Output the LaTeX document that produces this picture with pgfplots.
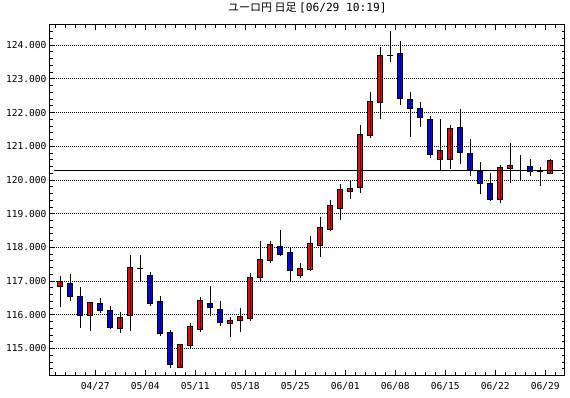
\documentclass[border=0pt]{standalone}
\usepackage{fontspec}
\setmainfont{DejaVu Sans Mono}
\newfontfamily\cjk{Noto Sans CJK JP}
\usepackage{pgfplots}
\pgfplotsset{compat=1.18}
\usepackage{pgfplotstable}
\pgfplotstableread{
x o h l c
0 116.85 117.16 116.22 117.00
1 116.94 117.22 116.42 116.55
2 116.55 116.83 115.62 115.99
3 115.99 116.39 115.53 116.36
4 116.33 116.50 116.05 116.13
5 116.12 116.27 115.59 115.62
6 115.59 116.09 115.45 115.93
7 115.99 117.78 115.53 117.39
8 117.38 117.78 116.99 117.36
9 117.18 117.28 116.25 116.32
10 116.38 116.56 115.38 115.43
11 115.46 115.55 114.41 114.53
12 114.45 115.14 114.41 115.13
13 115.09 115.75 115.00 115.66
14 115.55 116.53 115.48 116.41
15 116.32 116.86 115.95 116.22
16 116.17 116.42 115.68 115.78
17 115.74 115.93 115.33 115.84
18 115.83 116.21 115.48 115.96
19 115.89 117.25 115.83 117.12
20 117.12 118.20 116.99 117.65
21 117.62 118.20 117.55 118.07
22 118.04 118.52 117.73 117.80
23 117.84 118.00 116.99 117.31
24 117.17 117.53 117.08 117.36
25 117.33 118.34 117.29 118.10
26 118.06 118.91 117.70 118.58
27 118.52 119.41 118.49 119.24
28 119.16 119.89 118.82 119.73
29 119.66 119.99 119.43 119.75
30 119.79 121.63 119.61 121.36
31 121.33 122.62 121.24 122.34
32 122.31 123.95 121.82 123.70
33 123.70 124.42 123.51 123.68
34 123.76 124.13 122.21 122.43
35 122.40 122.61 121.28 122.13
36 122.12 122.32 121.56 121.86
37 121.78 121.91 120.64 120.74
38 120.62 121.81 120.27 120.88
39 120.62 121.63 120.31 121.53
40 121.56 122.11 120.47 120.82
41 120.79 121.22 120.13 120.28
42 120.26 120.54 119.57 119.88
43 119.88 120.20 119.37 119.43
44 119.41 120.45 119.31 120.38
45 120.35 121.11 119.91 120.44
46 120.40 120.75 119.99 120.40
47 120.41 120.62 120.13 120.24
48 120.26 120.39 119.81 120.24
49 120.20 120.62 120.20 120.59
}\candles
\begin{document}
\begin{tikzpicture}
\useasboundingbox (0,0) rectangle (570pt,398pt);
\begin{axis}[
  at={(50pt,22.5pt)}, anchor=south west,
  scale only axis, width=514.8pt, height=350.7pt,
  xmin=-1.03, xmax=50.45, ymin=114.199, ymax=124.602,
  ybar stacked, bar width=5pt,
  axis line style={black, line width=1pt},
  xtick={3.5,8.5,...,48.5},
  xticklabels={04/27,05/04,05/11,05/18,05/25,06/01,06/08,06/15,06/22,06/29},
  minor xtick={-0.5,0.5,...,49.5},
  ytick={115,116,...,124},
  yticklabels={115.000,116.000,117.000,118.000,119.000,120.000,121.000,122.000,123.000,124.000},
  minor ytick={114.2,114.4,...,124.6},
  major tick length=5pt, minor tick length=3pt,
  tick style={black, line width=0.8pt},
  ymajorgrids=true, xmajorgrids=false,
  major grid style={black, line width=0.7pt, dash pattern=on 1pt off 1pt},
  tick label style={font=\fontsize{9.6}{11}\selectfont, black},
  xticklabel style={yshift=-3.8pt},
  title={{\cjk\fontsize{11}{12}\selectfont ユーロ円 日足 }[06/29 10:19]},
  title style={font=\fontsize{11.2}{12}\selectfont, at={(0.5,1)}, anchor=center, yshift=10.8pt},
]
\addplot[draw=none, fill=none,
  error bars/.cd, y dir=both, y explicit, error mark=none,
  error bar style={draw=black, line width=1pt, solid}]
  table[x=x, y expr={min(\thisrow{o},\thisrow{c})},
        y error plus expr={\thisrow{h}-min(\thisrow{o},\thisrow{c})},
        y error minus expr={min(\thisrow{o},\thisrow{c})-\thisrow{l}}] {\candles};
\addplot[draw=black, line width=1pt, fill=red]
  table[x=x, y expr={max(\thisrow{c}-\thisrow{o},0)}] {\candles};
\addplot[draw=black, line width=1pt, fill=blue]
  table[x=x, y expr={max(\thisrow{o}-\thisrow{c},0)}] {\candles};
\end{axis}
\begin{axis}[
  at={(50pt,22.5pt)}, anchor=south west,
  scale only axis, width=514.8pt, height=350.7pt,
  xmin=-1.03, xmax=50.45, ymin=114.199, ymax=124.602,
  hide axis,
]
\addplot[black, line width=1pt, mark=none] coordinates {(-0.6,120.28) (50.24,120.28)};
\end{axis}
\end{tikzpicture}
\end{document}
